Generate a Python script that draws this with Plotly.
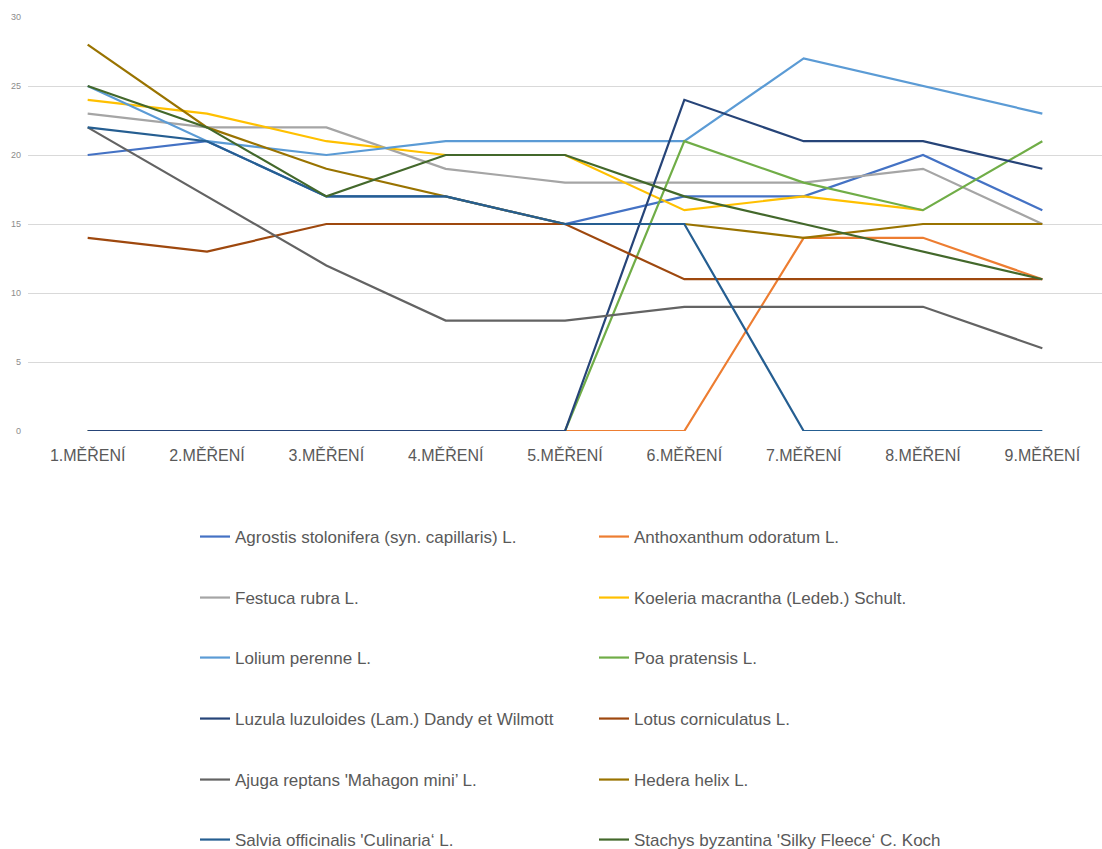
import plotly.graph_objects as go

categories = ["1.MĚŘENÍ", "2.MĚŘENÍ", "3.MĚŘENÍ", "4.MĚŘENÍ", "5.MĚŘENÍ",
              "6.MĚŘENÍ", "7.MĚŘENÍ", "8.MĚŘENÍ", "9.MĚŘENÍ"]

agrostis = [20, 21, 17, 17, 15, 17, 17, 20, 16]
anthoxanthum = [0, 0, 0, 0, 0, 0, 14, 14, 11]
festuca = [23, 22, 22, 19, 18, 18, 18, 19, 15]
koeleria = [24, 23, 21, 20, 20, 16, 17, 16, None]
lolium = [25, 21, 20, 21, 21, 21, 27, 25, 23]
poa = [0, 0, 0, 0, 0, 21, 18, 16, 21]
luzula = [0, 0, 0, 0, 0, 24, 21, 21, 19]
lotus = [14, 13, 15, 15, 15, 11, 11, 11, 11]
ajuga = [22, 17, 12, 8, 8, 9, 9, 9, 6]
hedera = [28, 22, 19, 17, 15, 15, 14, 15, 15]
salvia = [22, 21, 17, 17, 15, 15, 0, 0, 0]
stachys = [25, 22, 17, 20, 20, 17, 15, 13, 11]

series_names = [
    "Agrostis stolonifera (syn. capillaris) L.",
    "Anthoxanthum odoratum L.",
    "Festuca rubra L.",
    "Koeleria macrantha (Ledeb.) Schult.",
    "Lolium perenne L.",
    "Poa pratensis L.",
    "Luzula luzuloides (Lam.) Dandy et Wilmott",
    "Lotus corniculatus L.",
    "Ajuga reptans 'Mahagon mini’ L.",
    "Hedera helix L.",
    "Salvia officinalis 'Culinaria‘ L.",
    "Stachys byzantina 'Silky Fleece‘ C. Koch",
]
series_values = [agrostis, anthoxanthum, festuca, koeleria, lolium, poa,
                 luzula, lotus, ajuga, hedera, salvia, stachys]
series_colors = ["#4472C4", "#ED7D31", "#A5A5A5", "#FFC000", "#5B9BD5", "#70AD47",
                 "#264478", "#9E480E", "#636363", "#997300", "#255E91", "#43682B"]

W, H = 1102, 849
FONT = "Liberation Sans Narrow, Arial Narrow, Liberation Sans, sans-serif"

fig = go.Figure()
legend_layout = {}
row_y = [537, 598, 658, 719, 780, 840]
col_x = [195, 594]
for i, (name, vals, col) in enumerate(zip(series_names, series_values, series_colors)):
    key = "legend" if i == 0 else f"legend{i + 1}"
    fig.add_trace(go.Scatter(
        x=categories, y=vals, mode="lines", name=name,
        line=dict(color=col, width=2.2), connectgaps=False,
        legend=key, showlegend=True,
    ))
    r, c = divmod(i, 2)
    legend_layout[key] = dict(
        xref="container", yref="container",
        x=col_x[c] / W, y=1 - row_y[r] / H,
        xanchor="left", yanchor="middle",
        bgcolor="rgba(0,0,0,0)",
        font=dict(family=FONT, size=17, color="#595959"),
        itemwidth=30,
    )

fig.update_layout(
    width=W, height=H,
    margin=dict(l=28, r=0, t=17, b=418, autoexpand=False),
    paper_bgcolor="white", plot_bgcolor="white",
    xaxis=dict(
        type="category", range=[-0.5, 8.5], showgrid=False, showline=False,
        zeroline=False, ticks="", tickangle=0, ticklabelstandoff=13,
        tickfont=dict(family=FONT, size=16, color="#595959"),
    ),
    yaxis=dict(
        range=[0, 30], dtick=5, showgrid=True, gridcolor="#D9D9D9", gridwidth=1,
        zeroline=False, showline=False, ticks="", ticklabelstandoff=6,
        tickfont=dict(family=FONT, size=9, color="#8C8C8C"),
    ),
    **legend_layout,
)

fig.write_html("out.html")
